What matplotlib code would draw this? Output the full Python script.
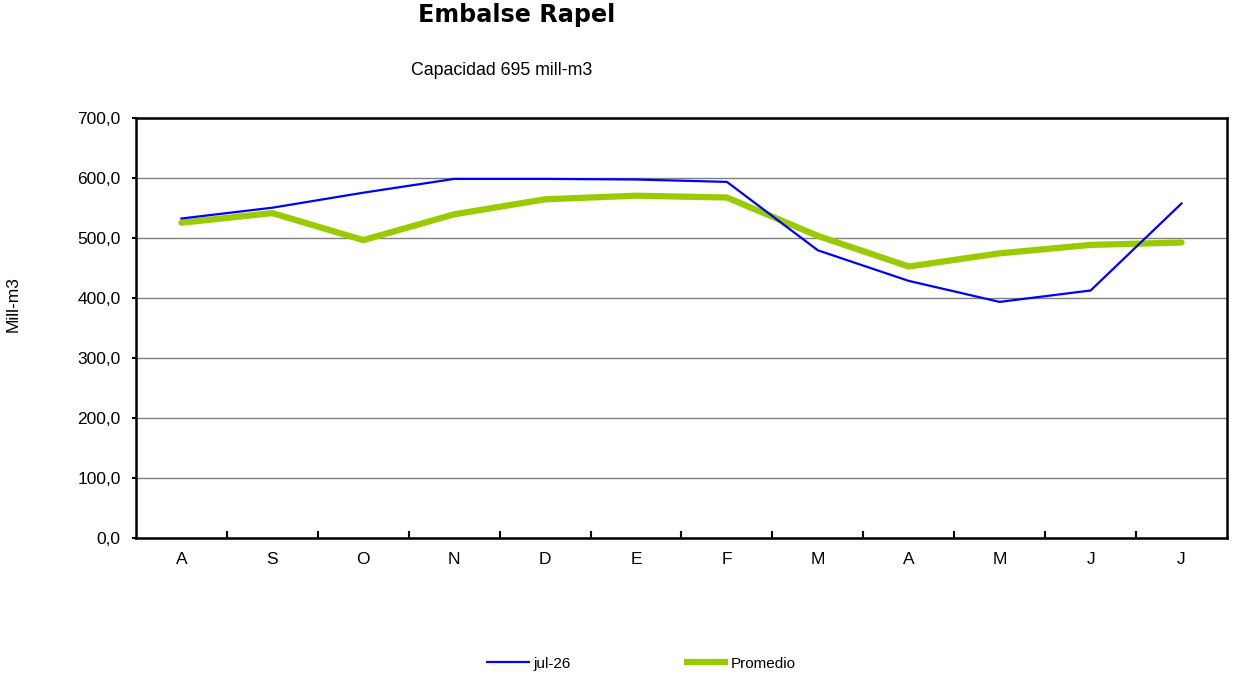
import numpy as np
import matplotlib.pyplot as plt
from matplotlib.lines import Line2D

# data
meses = ['A', 'S', 'O', 'N', 'D', 'E', 'F', 'M', 'A', 'M', 'J', 'J']
jul26 = [533, 551, 576, 599, 599, 598, 594, 480, 429, 394, 413, 558]
promedio = [526, 542, 497, 540, 565, 571, 568, 504, 453, 475, 489, 493]

plt.rcParams['font.family'] = ['Liberation Sans', 'DejaVu Sans']

fig = plt.figure(figsize=(12.33, 6.76), dpi=100)
ax = fig.add_axes([0.1103, 0.2037, 0.8848, 0.6213])

x = np.arange(len(meses))
ax.plot(x, jul26, color='#0000ff', linewidth=1.6, zorder=3)
ax.plot(x, promedio, color='#99cc00', linewidth=4.5, solid_capstyle='round', zorder=2)

ax.set_xlim(-0.5, len(meses) - 0.5)
ax.set_ylim(0, 700)
ax.set_yticks(np.arange(0, 701, 100))
ax.set_yticklabels([f'{v:.1f}'.replace('.', ',') for v in range(0, 701, 100)], fontsize=12.5)
ax.yaxis.grid(True, color='#808080', linewidth=1)
ax.set_axisbelow(True)

ax.set_xticks(x)
ax.set_xticklabels(meses, fontsize=12.5)
ax.tick_params(axis='x', which='major', length=0, pad=10)
ax.set_xticks(np.arange(0.5, len(meses) - 1, 1), minor=True)
ax.tick_params(axis='x', which='minor', direction='in', length=5, width=1.5)
ax.tick_params(axis='y', direction='out', length=3, width=1.5, pad=8)

for s in ax.spines.values():
    s.set_linewidth(1.8)
    s.set_color('black')

ax.set_ylabel('Mill-m3', fontsize=12.5)
ax.yaxis.set_label_coords(-0.106, 0.558)

fig.text(0.419, 0.978, 'Embalse Rapel', ha='center', va='center', fontsize=17.2,
         fontweight='bold', family='DejaVu Sans')
fig.text(0.407, 0.896, 'Capacidad 695 mill-m3', ha='center', va='center', fontsize=12.8)

handles = [Line2D([], [], color='#0000ff', linewidth=1.6, solid_capstyle='butt'),
           Line2D([], [], color='#99cc00', linewidth=4.5, solid_capstyle='butt')]
fig.legend(handles, ['jul-26', 'Promedio'], loc='center', bbox_to_anchor=(0.52, 0.018),
           ncol=2, frameon=False, fontsize=11, handlelength=2.88, handletextpad=0.2,
           columnspacing=7.4)

fig.savefig('out.png', dpi=100)
